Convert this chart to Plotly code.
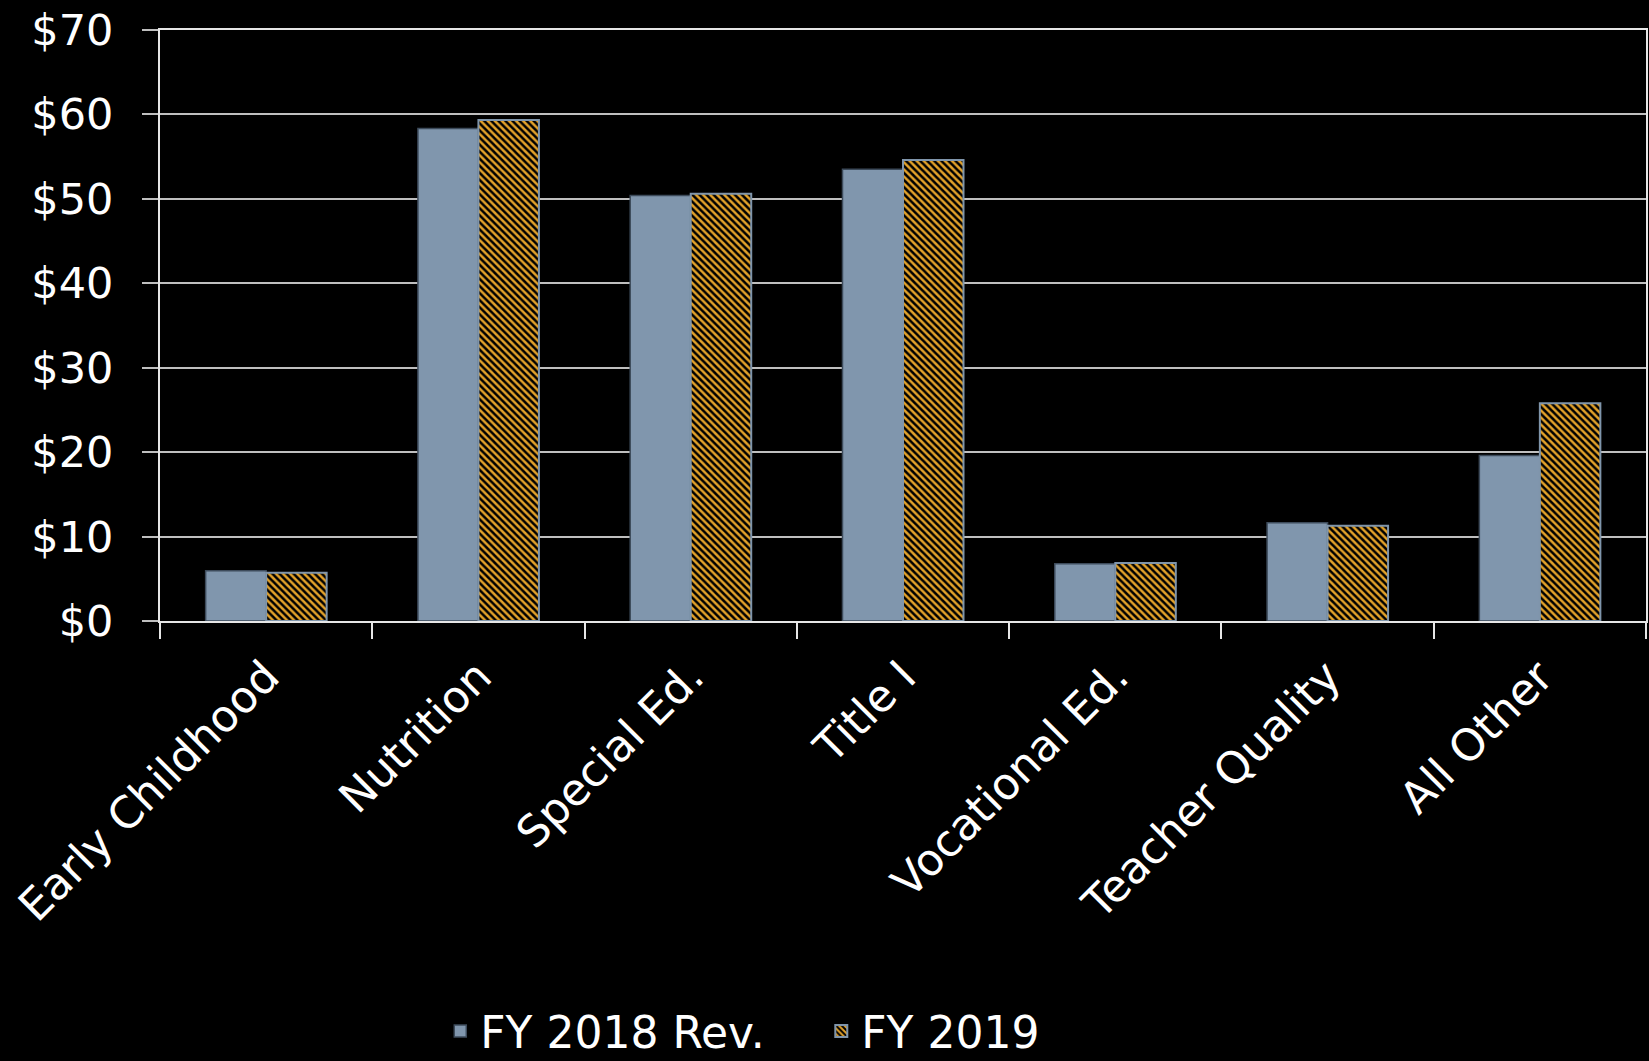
import plotly.graph_objects as go

categories = ["Early Childhood", "Nutrition", "Special Ed.", "Title I",
              "Vocational Ed.", "Teacher Quality", "All Other"]
fy2018_rev = [5.96, 58.34, 50.4, 53.5, 6.78, 11.64, 19.6]
fy2019 = [5.72, 59.34, 50.6, 54.6, 6.86, 11.28, 25.8]
series_names = ["FY 2018 Rev.", "FY 2019"]
y_ticks = [0, 10, 20, 30, 40, 50, 60, 70]
y_tick_labels = ["$0", "$10", "$20", "$30", "$40", "$50", "$60", "$70"]

FONT = "DejaVu Sans"

fig = go.Figure()
fig.add_trace(go.Bar(
    x=categories, y=fy2018_rev, name=series_names[0],
    marker=dict(color="#8096ad", line=dict(color="#3d4b5b", width=1.5)),
))
fig.add_trace(go.Bar(
    x=categories, y=fy2019, name=series_names[1],
    marker=dict(color="#e3a22a", line=dict(color="#7f95ab", width=2),
                pattern=dict(shape="\\", fgcolor="#000000", fgopacity=1,
                             size=5, solidity=0.5, fillmode="overlay")),
))

fig.update_layout(
    width=1649, height=1061,
    paper_bgcolor="#000000", plot_bgcolor="#000000",
    margin=dict(l=160, r=3, t=30, b=440, autoexpand=False),
    barmode="group", bargap=0.43, bargroupgap=0,
    font=dict(family=FONT, color="#ffffff", size=44),
    showlegend=True,
    legend=dict(orientation="h", xref="container", yref="container",
                x=0.267, xanchor="left", y=0.028, yanchor="middle",
                font=dict(family=FONT, size=44, color="#ffffff"),
                bgcolor="rgba(0,0,0,0)", entrywidth=336, entrywidthmode="pixels",
                itemwidth=30, traceorder="normal"),
    xaxis=dict(
        tickangle=-45, showline=True, linecolor="#e6e6e6", linewidth=2,
        ticks="outside", ticklen=16, tickwidth=2, tickcolor="#e6e6e6",
        tickson="boundaries", mirror=True, ticklabelstandoff=10, automargin=False,
        tickfont=dict(family=FONT, size=44, color="#ffffff"),
    ),
    yaxis=dict(
        range=[0, 70], tickmode="array", tickvals=y_ticks, ticktext=y_tick_labels,
        showline=True, linecolor="#e6e6e6", linewidth=2, mirror=True,
        ticks="outside", ticklen=16, tickwidth=2, tickcolor="#bfbfbf",
        ticklabelstandoff=20, automargin=False,
        showgrid=True, gridcolor="#bfbfbf", gridwidth=2, zeroline=False,
        tickfont=dict(family=FONT, size=43, color="#ffffff"),
    ),
)

fig.write_html(
    "out.html",
    config={"displayModeBar": False},
    post_script="document.body.style.margin='0';document.body.style.background='#000';",
)
